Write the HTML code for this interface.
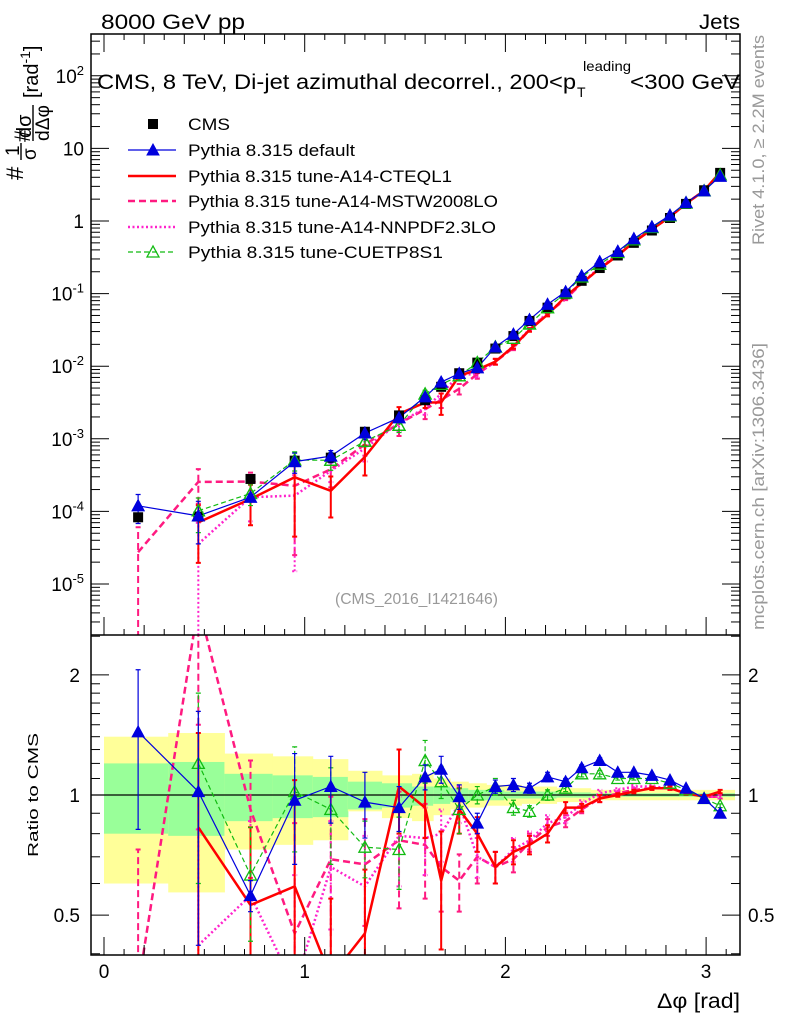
<!DOCTYPE html>
<html><head><meta charset="utf-8"><style>
html,body{margin:0;padding:0;background:#fff;width:786px;height:1024px;overflow:hidden}
svg{display:block;font-family:"Liberation Sans",sans-serif;overflow:hidden}
</style></head><body>
<svg id="c" width="786" height="1024" viewBox="0 0 786 1024" xmlns="http://www.w3.org/2000/svg">
<defs>
<clipPath id="cpTop"><rect x="91" y="34" width="649" height="601"/></clipPath>
<clipPath id="cpBot"><rect x="91" y="635" width="649" height="320"/></clipPath>
</defs>
<g id="bands" clip-path="url(#cpBot)"></g>
<g id="topMarks" clip-path="url(#cpTop)"></g>
<g id="botMarks" clip-path="url(#cpBot)"></g>
<g id="axes"></g>
<rect x="91" y="34" width="649" height="921" fill="none" stroke="#000" stroke-width="1.5"/>
<line x1="91" y1="635" x2="740" y2="635" stroke="#000" stroke-width="1.5"/>
<text x="101" y="29" font-size="21" textLength="144" lengthAdjust="spacingAndGlyphs">8000 GeV pp</text>
<text x="699" y="29" font-size="21" textLength="41" lengthAdjust="spacingAndGlyphs">Jets</text>
<g font-size="21">
<text x="97" y="89" textLength="479" lengthAdjust="spacingAndGlyphs">CMS, 8 TeV, Di-jet azimuthal decorrel., 200&lt;p</text>
<text x="577" y="97" font-size="14">T</text>
<text x="583" y="71" font-size="14" textLength="48" lengthAdjust="spacingAndGlyphs">leading</text>
<text x="630" y="89" textLength="110" lengthAdjust="spacingAndGlyphs">&lt;300 GeV</text>
</g>
<text x="335" y="604" font-size="16" fill="#999" textLength="163" lengthAdjust="spacingAndGlyphs">(CMS_2016_I1421646)</text>
<text transform="translate(764,245) rotate(-90)" font-size="17" fill="#999" textLength="210" lengthAdjust="spacingAndGlyphs">Rivet 4.1.0, ≥ 2.2M events</text>
<text transform="translate(764,630) rotate(-90)" font-size="17" fill="#999" textLength="287" lengthAdjust="spacingAndGlyphs">mcplots.cern.ch [arXiv:1306.3436]</text>
<g font-size="22">
<text transform="translate(23,180) rotate(-90)" font-size="24">#</text>
<text transform="translate(19,156) rotate(-90)" font-size="19">1</text>
<line x1="21" y1="160" x2="21" y2="143" stroke="#000" stroke-width="1.4"/>
<text transform="translate(36,160) rotate(-90)" font-size="19">σ</text>
<text transform="translate(30,142) rotate(-90)" font-size="22">#</text>
<text transform="translate(31,138) rotate(-90)" font-size="20">dσ</text>
<line x1="33" y1="141" x2="33" y2="105" stroke="#000" stroke-width="1.4"/>
<text transform="translate(49,141) rotate(-90)" font-size="19" textLength="36" lengthAdjust="spacingAndGlyphs">dΔφ</text>
<text transform="translate(38,98) rotate(-90)" font-size="20">[rad<tspan font-size="14" dy="-8">-1</tspan><tspan dy="8">]</tspan></text>
</g>
<text transform="translate(38,857) rotate(-90)" font-size="15" textLength="124" lengthAdjust="spacingAndGlyphs">Ratio to CMS</text>
<text x="657" y="1008" font-size="21" textLength="83" lengthAdjust="spacingAndGlyphs">Δφ [rad]</text>
<g id="legend"></g>
</svg>
<script>
const xs=[0.17,0.47,0.73,0.95,1.13,1.30,1.47,1.60,1.68,1.77,1.86,1.95,2.04,2.12,2.21,2.30,2.38,2.47,2.56,2.64,2.73,2.82,2.90,2.99,3.07];
const cms=[8.3e-5,8.5e-5,2.8e-4,5.0e-4,5.5e-4,1.25e-3,2.1e-3,3.4e-3,5.2e-3,8.0e-3,0.0112,0.0175,0.026,0.042,0.064,0.098,0.15,0.225,0.335,0.5,0.74,1.1,1.72,2.65,4.6];
const rBlue=[1.44,1.02,0.56,0.97,1.05,0.96,0.93,1.11,1.16,0.99,0.85,1.05,1.06,1.04,1.11,1.08,1.17,1.22,1.14,1.14,1.12,1.09,1.04,0.98,0.90];
const eBlue=[0.62,0.6,0.05,0.3,0.2,0.18,0.12,0.08,0.09,0.07,0.05,0.04,0.04,0.03,0.03,0.02,0.02,0.02,0.01,0.01,0.01,0.01,0.01,0.01,0.01];
const rGreen=[null,1.20,0.63,1.02,0.92,0.74,0.73,1.22,1.08,0.92,1.0,1.05,0.93,0.91,1.0,1.04,1.13,1.13,1.10,1.10,1.10,1.07,1.03,0.98,0.94];
const eGreen=[0,0.6,0.2,0.3,0.25,0.12,0.15,0.15,0.1,0.12,0.05,0.05,0.04,0.03,0.03,0.02,0.02,0.02,0.01,0.01,0.01,0.01,0.01,0.01,0.01];
const rRed=[null,0.83,0.53,0.59,0.35,0.45,1.05,0.93,0.61,0.92,0.80,0.66,0.72,0.75,0.80,0.93,0.93,0.98,1.0,1.02,1.04,1.04,1.01,0.99,1.02];
const eRed=[0,0.6,0.3,0.5,0.2,0.2,0.25,0.15,0.2,0.12,0.08,0.06,0.05,0.04,0.04,0.03,0.02,0.02,0.01,0.01,0.01,0.01,0.01,0.01,0.01];
const rDash=[0.33,3.0,0.92,0.45,0.69,0.67,0.77,0.75,0.66,0.61,0.70,0.66,0.69,0.76,0.83,0.86,0.92,0.98,1.01,1.03,1.04,1.04,1.01,0.99,0.99];
const eDash=[0.4,1.5,0.3,0.4,0.3,0.2,0.25,0.2,0.15,0.1,0.1,0.06,0.05,0.04,0.04,0.03,0.02,0.02,0.01,0.01,0.01,0.01,0.01,0.01,0.01];
const rDot=[null,0.42,0.56,0.33,0.66,0.59,0.79,0.78,0.80,0.95,0.70,0.66,0.73,0.77,0.85,0.88,0.95,1.01,1.03,1.05,1.05,1.04,1.01,0.99,0.99];
const eDot=[0,0.4,0.3,0.3,0.2,0.2,0.2,0.15,0.12,0.1,0.08,0.06,0.05,0.04,0.04,0.03,0.02,0.02,0.01,0.01,0.01,0.01,0.01,0.01,0.01];
const yelUp=[1.40,1.43,1.27,1.25,1.23,1.15,1.12,1.13,1.10,1.08,1.07,1.06,1.06,1.05,1.05,1.04,1.04,1.03,1.03,1.03,1.03,1.03,1.03,1.03,1.03];
const yelDn=[0.60,0.57,0.73,0.75,0.77,0.91,0.875,0.86,0.89,0.92,0.93,0.94,0.94,0.95,0.95,0.96,0.96,0.97,0.97,0.97,0.97,0.97,0.97,0.97,0.97];
const grnUp=[1.20,1.21,1.13,1.12,1.11,1.08,1.07,1.05,1.05,1.04,1.03,1.03,1.02,1.02,1.02,1.015,1.015,1.01,1.01,1.01,1.01,1.01,1.01,1.01,1.01];
const grnDn=[0.80,0.79,0.86,0.875,0.88,0.92,0.93,0.94,0.95,0.96,0.97,0.97,0.98,0.98,0.98,0.985,0.985,0.99,0.99,0.99,0.99,0.99,0.99,0.99,0.99];
const topTicks=['10^2','10','1','10^-1','10^-2','10^-3','10^-4','10^-5'];
const ratioTicks=['2','1','0.5'];
const xTicks=['0','1','2','3'];

const NS='http://www.w3.org/2000/svg';
const X=v=>104+200.7*v;
const YT=v=>221-72.6*Math.log10(v);
const YR=v=>795-399*Math.log10(v);
function mk(tag,attrs,parent){const e=document.createElementNS(NS,tag);for(const k in attrs)e.setAttribute(k,attrs[k]);parent.appendChild(e);return e;}
const axes=document.getElementById('axes'),bands=document.getElementById('bands'),topG=document.getElementById('topMarks'),botG=document.getElementById('botMarks'),leg=document.getElementById('legend');

const edges=[0];for(let i=0;i<xs.length-1;i++)edges.push((xs[i]+xs[i+1])/2);edges.push(3.1416);
for(let i=0;i<xs.length;i++){
  const y=mk('rect',{x:X(edges[i]),y:YR(yelUp[i]),width:X(edges[i+1])-X(edges[i])+0.5,height:YR(yelDn[i])-YR(yelUp[i]),fill:'#ffff99'},bands);
  
  
  const g=mk('rect',{x:X(edges[i]),y:YR(grnUp[i]),width:X(edges[i+1])-X(edges[i])+0.5,height:YR(grnDn[i])-YR(grnUp[i]),fill:'#99ff99'},bands);
  
  
}
const one=mk('line',{x1:91,x2:740,y1:YR(1),y2:YR(1),stroke:'#000','stroke-width':1.3},bands);



const series=[
 {name:'pythia-tune-a14-mstw2008lo',r:rDash,e:eDash,col:'#ff1a80',w:2.5,dash:'7,4',mark:null},
 {name:'pythia-tune-a14-nnpdf23lo',r:rDot,e:eDot,col:'#ff22cc',w:2.5,dash:'2,2.5',mark:null},
 {name:'pythia-tune-a14-cteql1',r:rRed,e:eRed,col:'#ff0000',w:2.5,dash:null,mark:null},
 {name:'pythia-tune-cuetp8s1',r:rGreen,e:eGreen,col:'#11bb11',w:1.2,dash:'5,3',mark:'open'},
 {name:'pythia-default',r:rBlue,e:eBlue,col:'#0000dd',w:1.2,dash:null,mark:'fill'}
];
function tri(g,x,y,col,type,nm){const t=mk('polygon',{points:`${x},${y-6} ${x-6},${y+5} ${x+6},${y+5}`,fill:type==='fill'?col:'none',stroke:col,'stroke-width':type==='fill'?1:1.3},g);
  
  }
function drawSeries(s,g,Yf,valf){
  let d='';let pen=false;
  for(let i=0;i<xs.length;i++){
    if(s.r[i]===null){pen=false;continue;}
    const v=valf(i),px=X(xs[i]),py=Yf(v);
    d+=(pen?'L':'M')+px.toFixed(1)+','+py.toFixed(1);pen=true;
  }
  const p=mk('path',{d:d,fill:'none',stroke:s.col,'stroke-width':s.w,'stroke-linejoin':'round'},g);
  if(s.dash)p.setAttribute('stroke-dasharray',s.dash);
  
  
  for(let i=0;i<xs.length;i++){
    if(s.r[i]===null)continue;
    const v=valf(i),rel=s.e[i]/s.r[i];
    const lo=Math.max(v*(1-rel),v*0.001),hi=v*(1+rel);
    const px=X(xs[i]);
    const eb=mk('path',{d:`M${px},${Yf(lo)}L${px},${Yf(hi)}M${px-2.5},${Yf(lo)}h5M${px-2.5},${Yf(hi)}h5`,stroke:s.col,'stroke-width':Math.min(s.w,2),fill:'none'},g);
    if(s.dash)eb.setAttribute('stroke-dasharray',s.dash);
    
    
    if(s.mark)tri(g,px,Yf(v),s.col,s.mark,s.name+'-marker');
  }
}
series.forEach(s=>{
  drawSeries(s,topG,YT,i=>cms[i]*s.r[i]);
  drawSeries(s,botG,YR,i=>s.r[i]);
});
for(let i=0;i<xs.length;i++){
  const q=mk('rect',{x:X(xs[i])-5,y:YT(cms[i])-5,width:10,height:10,fill:'#000'},topG);
  
  
}
[series[3],series[4]].forEach(s=>{for(let i=0;i<xs.length;i++){if(s.r[i]===null)continue;tri(topG,X(xs[i]),YT(cms[i]*s.r[i]),s.col,s.mark,s.name+'-marker');}});

for(let k=0;k<=31;k++){
  const v=k/10,px=X(v);if(px>739)break;
  const len=k%10===0?18:(k%2===0?10:6);
  [955,635].forEach(yb=>mk('line',{x1:px,x2:px,y1:yb,y2:yb-len,stroke:'#000','stroke-width':1},axes));
  mk('line',{x1:px,x2:px,y1:34,y2:34+len,stroke:'#000','stroke-width':1},axes);
}
xTicks.forEach(t=>{const e=mk('text',{x:X(+t),y:978,'font-size':19,'text-anchor':'middle'},axes);e.textContent=t;
  
  });
for(let dec=-6;dec<=2;dec++){for(let m=1;m<=9;m++){const v=m*Math.pow(10,dec),py=YT(v);if(py<35||py>634)continue;
  const len=m===1?18:9;
  mk('line',{x1:91,x2:91+len,y1:py,y2:py,stroke:'#000','stroke-width':1},axes);
  mk('line',{x1:740,x2:740-len,y1:py,y2:py,stroke:'#000','stroke-width':1},axes);}}
topTicks.forEach(t=>{
  const parts=t.split('^');const val=parts.length>1?Math.pow(10,+parts[1]):+t;const py=YT(val)+7;
  const e=mk('text',{x:84,y:py,'font-size':19,'text-anchor':'end'},axes);
  if(parts.length>1){e.textContent=parts[0];const ts=mk('tspan',{'font-size':13,dy:-8},e);ts.textContent=parts[1];}
  else e.textContent=t;
  
  
});
const rt=[0.4,0.5,0.6,0.7,0.8,0.9,1,1.1,1.2,1.3,1.4,1.5,1.6,1.7,1.8,1.9,2,2.5];
rt.forEach(v=>{const py=YR(v);if(py<636||py>954)return;const len=(v===0.5||v===1||v===2)?18:9;
  mk('line',{x1:91,x2:91+len,y1:py,y2:py,stroke:'#000','stroke-width':1},axes);
  mk('line',{x1:740,x2:740-len,y1:py,y2:py,stroke:'#000','stroke-width':1},axes);});
ratioTicks.forEach(t=>{
  const a=mk('text',{x:80,y:YR(+t)+7,'font-size':19,'text-anchor':'end'},axes);a.textContent=t;
  
  
  const b=mk('text',{x:748,y:YR(+t)+7,'font-size':19},axes);b.textContent=t;
  
  
});
const legItems=[
 {t:'CMS',s:null,w:42},
 {t:'Pythia 8.315 default',s:series[4],w:167},
 {t:'Pythia 8.315 tune-A14-CTEQL1',s:series[2],w:264},
 {t:'Pythia 8.315 tune-A14-MSTW2008LO',s:series[0],w:310},
 {t:'Pythia 8.315 tune-A14-NNPDF2.3LO',s:series[1],w:308},
 {t:'Pythia 8.315 tune-CUETP8S1',s:series[3],w:255}];
const legY=[124,150,176,201,227,252];
legItems.forEach((it,i)=>{
  const y=legY[i];
  const g=mk('g',{},leg);
  
  
  if(!it.s){mk('rect',{x:148,y:y-5,width:10,height:10,fill:'#000'},g);}
  else{const l=mk('line',{x1:128,x2:176,y1:y,y2:y,stroke:it.s.col,'stroke-width':it.s.w},g);
    if(it.s.dash)l.setAttribute('stroke-dasharray',it.s.dash);
    if(it.s.mark)tri(g,153,y,it.s.col,it.s.mark,'legend-marker');}
  const tx=mk('text',{x:188,y:y+6,'font-size':17,textLength:it.w,lengthAdjust:'spacingAndGlyphs'},g);tx.textContent=it.t;
});
</script>
</body></html>
